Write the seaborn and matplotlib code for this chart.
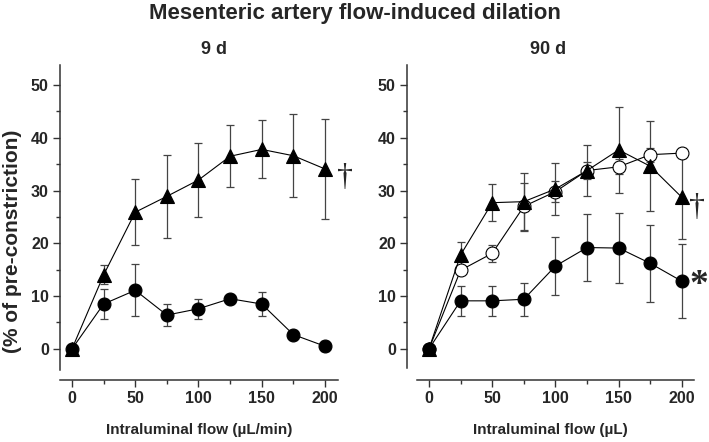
import numpy as np
import matplotlib
matplotlib.use("Agg")
import matplotlib.pyplot as plt
from matplotlib.ticker import FixedLocator
import seaborn as sns

# flow steps (x axis)
flow = [0, 25, 50, 75, 100, 125, 150, 175, 200]

# 9 d panel
tri_9d = [0, 14.0, 25.9, 28.9, 32.0, 36.5, 37.8, 36.6, 34.1]
tri_9d_err = [0, 1.8, 6.2, 7.8, 7.0, 5.9, 5.5, 7.9, 9.5]
circ_9d = [0, 8.5, 11.1, 6.4, 7.6, 9.5, 8.5, 2.7, 0.5]
circ_9d_err = [0, 2.9, 4.9, 2.1, 1.9, 0.5, 2.3, 0.5, 1.0]

# 90 d panel
tri_90d = [0, 17.8, 27.7, 27.9, 30.3, 33.8, 37.7, 34.6, 28.7]
tri_90d_err = [0, 2.5, 3.5, 5.5, 5.0, 4.8, 8.2, 8.5, 7.8]
open_90d = [0, 14.9, 18.1, 27.0, 29.8, 33.8, 34.5, 36.8, 37.1]
open_90d_err = [0, 0.7, 1.6, 4.4, 2.0, 1.7, 1.4, 1.3, 1.0]
circ_90d = [0, 9.1, 9.1, 9.4, 15.7, 19.2, 19.1, 16.2, 12.8]
circ_90d_err = [0, 2.8, 2.8, 3.1, 5.5, 6.4, 6.6, 7.3, 7.0]

title = "Mesenteric artery flow-induced dilation"
panel_titles = ["9 d", "90 d"]
xlabels = ["Intraluminal flow (\u00b5L/min)", "Intraluminal flow (\u00b5L)"]
ylabel = "(% of pre-constriction)"

sns.set_style("ticks")
plt.rcParams['font.family'] = ['Liberation Sans', 'DejaVu Sans']
plt.rcParams['font.weight'] = 'bold'

fig = plt.figure(figsize=(7.09, 4.42), dpi=100)
ax1 = fig.add_axes([0.0846, 0.1403, 0.3921, 0.7127])
ax2 = fig.add_axes([0.5740, 0.1403, 0.4048, 0.7127])

ebar_kw = dict(fmt='none', ecolor='#444444', elinewidth=0.9, capsize=2.7, capthick=0.9, zorder=1.5)
line_kw = dict(color='black', linewidth=0.8, markeredgecolor='black', markeredgewidth=0.8, errorbar=None)


def draw(ax, y, err, marker, ms, face='black'):
    ax.errorbar(flow, y, yerr=err, **ebar_kw)
    sns.lineplot(x=flow, y=y, ax=ax, marker=marker, markersize=ms, markerfacecolor=face, **line_kw)


draw(ax1, circ_9d, circ_9d_err, 'o', 9.3)
draw(ax1, tri_9d, tri_9d_err, '^', 10.5)

draw(ax2, open_90d, open_90d_err, 'o', 9.3, face='white')
draw(ax2, circ_90d, circ_90d_err, 'o', 9.3)
draw(ax2, tri_90d, tri_90d_err, '^', 10.5)

ax1.set_xlim(-9.5, 210.3)
ax2.set_xlim(-17.4, 209.5)
for ax, xl in zip([ax1, ax2], xlabels):
    ax.set_ylim(-5.9, 53.8)
    ax.set_xticks([0, 50, 100, 150, 200])
    ax.xaxis.set_minor_locator(FixedLocator([25, 75, 125, 175]))
    ax.set_yticks([0, 10, 20, 30, 40, 50])
    ax.yaxis.set_minor_locator(FixedLocator([5, 15, 25, 35, 45]))
    ax.tick_params(which='major', length=5, width=1, color='#333333', labelsize=11.5, pad=3)
    ax.tick_params(which='minor', length=3, width=1, color='#333333')
    for lab in ax.get_xticklabels() + ax.get_yticklabels():
        lab.set_fontweight('bold')
    ax.spines['top'].set_visible(False)
    ax.spines['right'].set_visible(False)
    for s in ['left', 'bottom']:
        ax.spines[s].set_linewidth(1.1)
        ax.spines[s].set_color('#333333')
    ax.set_xlabel(xl, fontsize=11, fontweight='bold', labelpad=12)
    ax.set_ylabel('')

ax1.spines['left'].set_bounds(-4.0, 53.8)
ax2.spines['left'].set_bounds(-3.6, 53.8)
ax2.spines['bottom'].set_bounds(-9.5, 209.5)

# significance marks
ax1.text(216, 32.4, "\u2020", fontsize=23, fontweight='normal', family='Liberation Serif',
         ha='center', va='center', clip_on=False)
ax2.text(212, 26.7, "\u2020", fontsize=23, fontweight='normal', family='Liberation Serif',
         ha='center', va='center', clip_on=False)
ax2.text(213.5, 12.0, "*", fontsize=27, family='Liberation Serif', ha='center', va='center', clip_on=False)

fig.text(0.5007, 1 - 13 / 442, title, fontsize=16, fontweight='bold', ha='center', va='center')
fig.text(214 / 709, 1 - 49 / 442, panel_titles[0], fontsize=13, fontweight='bold', ha='center', va='center')
fig.text(548 / 709, 1 - 49 / 442, panel_titles[1], fontsize=13, fontweight='bold', ha='center', va='center')
fig.text(13 / 709, 1 - 241 / 442, ylabel, fontsize=15, fontweight='bold', rotation=90, ha='center', va='center')

fig.savefig("out.png", dpi=100)
